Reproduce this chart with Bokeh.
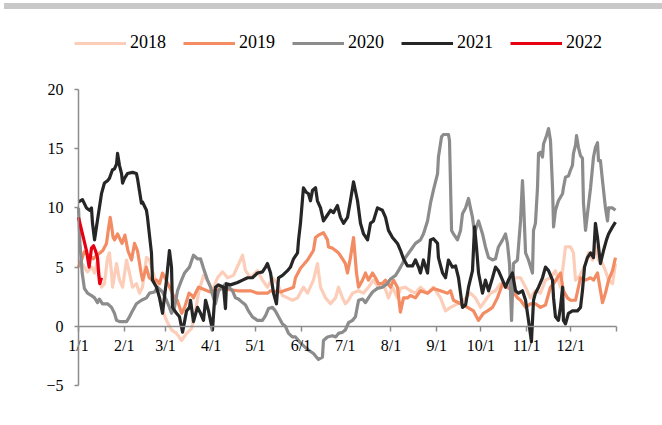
from bokeh.plotting import figure
from bokeh.models import Range1d, FixedTicker, Legend, LegendItem, Div
from bokeh.layouts import column
from bokeh.embed import file_html
from bokeh.resources import INLINE

# ---------------- data ----------------
month_ticks = [0, 31, 59, 90, 120, 151, 181, 212, 243, 273, 304, 334, 365]
month_labels = ["1/1", "2/1", "3/1", "4/1", "5/1", "6/1", "7/1", "8/1",
                "9/1", "10/1", "11/1", "12/1", ""]
y_ticks = [-5, 0, 5, 10, 15, 20]

years = ["2018", "2019", "2020", "2021", "2022"]

d18 = [0, 3, 6, 9, 10.9, 12.9, 15.6, 17.6, 19.7, 21,
       22.4, 23.1, 25.8, 27.8, 29.9, 32.6, 34.6, 36.6, 39.3, 41.4,
       43.4, 46.1, 48.2, 50.2, 52.9, 56.3, 59.7, 63.1, 66.5, 69.9,
       73.3, 76.7, 79.4, 81.4, 84.8, 87.5, 90.9, 94.3, 97.7, 101.1,
       105.1, 109.9, 111.3, 113.3, 116.7, 121.4, 124.8, 128.2, 131.6, 135,
       138.4, 141.8, 145.2, 148.6, 152.6, 155.4, 159.4, 162.1, 164.2, 167.6,
       171, 174.4, 176.4, 179.1, 181.1, 183.2, 185.9, 190, 193.3, 196.7,
       200.1, 203.5, 206.9, 210.3, 213, 216.4, 218.4, 221.8, 225.2, 228.6,
       232, 236.8, 240.8, 245.6, 249, 252.4, 257.1, 261.2, 265.9, 269.3,
       272.7, 276.1, 279.5, 282.9, 286.3, 289.7, 293.1, 296.5, 299.9, 303.3,
       306.6, 310, 313.4, 316.8, 320.2, 323.6, 327, 330.4, 333.8, 335.8,
       337.2, 339.2, 341.9, 344, 346, 348.7, 350.7, 352.8, 355.5, 357.5,
       359.6, 362.3, 364.3]
v18 = [5.6, 5.2, 4.6, 5.0, 4.5, 5.6, 3.3, 3.6, 5.8, 6.2,
       4.5, 3.3, 5.3, 3.9, 3.3, 5.6, 4.5, 3.3, 3.6, 2.8,
       3.3, 5.8, 5.6, 4.7, 3.6, 1.6, 0.5, -0.3, -0.6, -1.2,
       -0.6, -0.2, 1.3, 2.8, 4.3, 3.9, 3.0, 4.1, 4.6, 4.1,
       4.3, 5.6, 6.0, 4.7, 4.1, 4.7, 3.9, 3.3, 4.1, 3.6,
       2.6, 2.4, 2.2, 2.4, 3.3, 2.8, 3.9, 5.3, 3.3, 2.4,
       1.9, 2.4, 3.3, 2.4, 1.9, 2.2, 2.8, 3.0, 2.8, 3.3,
       3.9, 3.3, 3.6, 2.4, 3.3, 2.4, 3.2, 3.3, 3.0, 2.8,
       3.3, 2.8, 3.3, 2.4, 1.3, 1.6, 1.9, 2.2, 2.8, 2.4,
       1.6, 2.2, 2.8, 3.0, 3.6, 3.3, 3.6, 4.1, 4.1, 3.3,
       2.4, 3.0, 2.8, 3.9, 4.1, 4.7, 3.3, 6.7, 6.7, 6.2,
       3.9, 4.1, 4.7, 5.3, 6.2, 5.6, 6.7, 5.6, 5.3, 4.7,
       3.9, 3.6, 5.3]

d19 = [0, 2, 4, 7, 10, 12.5, 14.5, 16.5, 19, 20.5,
       21.5, 22.5, 23.5, 24.5, 26.5, 29.5, 31.5, 33.5, 36, 38,
       40, 42.5, 43.5, 46, 48, 50, 53, 55, 57, 59.5,
       63, 65, 67, 70, 72, 75, 77, 78, 79.4, 81.4,
       89.5, 96.3, 107.9, 116.7, 121.4, 128.2, 130.3, 137, 143.8, 145.9,
       147.2, 150.6, 155.4, 159.4, 160.8, 162.8, 166.2, 168.9, 169.6, 172.3,
       174.4, 176.4, 179.1, 181.1, 182.5, 184.5, 186.6, 188.6, 190, 192.7,
       194.7, 196.7, 199.5, 201.5, 203.5, 206.2, 208.3, 211.7, 213.7, 216.4,
       218.4, 220.5, 223.2, 225.2, 228.6, 232, 236.8, 240.8, 245.6, 250.3,
       252.4, 254.4, 259.2, 263.9, 268, 271.4, 274.7, 277.5, 280.9, 284.2,
       287.7, 291, 294.4, 297.8, 299.9, 303.3, 306.6, 310, 313.4, 316.8,
       320.2, 322.3, 325, 327, 329, 331.7, 333.8, 337.2, 340.6, 344,
       347.4, 349.4, 352.1, 355.5, 357.5, 359.6, 362.3, 364.3]
v19 = [5.0, 5.6, 6.3, 6.0, 5.7, 6.0, 6.2, 6.4, 7.0, 8.4,
       9.2, 8.4, 7.5, 7.3, 7.8, 7.0, 7.7, 6.4, 5.6, 7.0,
       6.4, 4.5, 3.9, 5.0, 4.1, 3.9, 3.9, 3.6, 4.5, 3.9,
       3.0, 2.4, 2.2, 1.1, 1.6, 2.8, 2.6, 2.4, 2.8, 3.3,
       2.9, 3.2, 3.0, 3.0, 2.8, 2.8, 3.0, 2.9, 3.2, 3.3,
       4.1, 4.9, 5.6, 6.4, 7.5, 7.7, 7.9, 7.3, 6.7, 6.6,
       6.4, 6.2, 5.7, 5.3, 4.5, 5.8, 7.5, 4.5, 3.3, 3.9,
       4.5, 3.9, 4.5, 4.1, 3.6, 3.6, 3.9, 3.3, 3.9, 3.3,
       1.2, 2.4, 2.4, 2.6, 2.4, 3.0, 2.8, 3.2, 3.0, 2.8,
       3.0, 2.2, 1.9, 1.6, 1.3, 0.5, 1.1, 1.3, 1.6, 2.4,
       3.6, 3.3, 3.0, 2.4, 2.2, 1.6, 1.9, 1.9, 1.6, 1.8,
       3.3, 3.6, 4.1, 4.5, 3.0, 2.4, 2.2, 2.2, 4.1, 3.9,
       4.1, 3.9, 4.5, 2.0, 2.8, 3.9, 4.7, 5.8]

d20 = [0, 1, 2.5, 4, 6.1, 8.8, 10.9, 12.9, 14.2, 16.3,
       19.7, 22.4, 24.4, 25.8, 27.8, 32.6, 34.6, 36.6, 39.3, 42.7,
       46.1, 48.2, 51.6, 53.6, 57, 59.7, 61.7, 63.1, 65.1, 67.2,
       69.9, 71.9, 75.3, 78, 80.7, 82.8, 84.8, 87.5, 89.6, 91.6,
       92.9, 95, 97.7, 99.7, 101.8, 104.5, 106.5, 108.5, 111.3, 113.3,
       115.3, 118, 121.4, 124.8, 126.9, 128.9, 131.6, 133.6, 135.7, 138.4,
       140.4, 142.5, 145.2, 147.2, 150.6, 154, 156, 159.4, 162.8, 165.5,
       166.2, 168.9, 172.3, 174.4, 176.4, 179.1, 181.1, 183.2, 185.9, 187.9,
       190, 192.7, 194.7, 196.7, 199.5, 202.8, 206.2, 209.6, 211.7, 215.1,
       217.1, 219.8, 221.8, 225.2, 228.6, 232, 234, 236.8, 238.8, 240.8,
       243.6, 244.2, 246.3, 247.6, 251, 251.7, 253.1, 254.4, 257.1, 259.2,
       260.5, 262.6, 264.6, 265.9, 267.3, 268.7, 270, 271.4, 274.1, 276.1,
       278.2, 280.9, 282.9, 284.9, 287.7, 289.7, 291, 292.4, 293.8, 295.1,
       297.8, 299.9, 301.2, 301.9, 303.3, 305.3, 308, 308.7, 310, 311.4,
       312.1, 313.4, 314.8, 315.5, 317.5, 318.9, 320.2, 321.6, 322.3, 323.6,
       325.6, 328.4, 329, 330.4, 332.4, 333.8, 335.1, 335.8, 337.2, 337.9,
       339.2, 340.6, 341.9, 342.6, 344, 345.3, 347.4, 349.4, 350.7, 352.1,
       352.8, 354.1, 355.5, 357.5, 358.9, 359.6, 362.3, 364.3]
v20 = [10.0, 7.0, 4.5, 3.2, 2.8, 2.6, 2.4, 2.0, 2.3, 1.9,
       1.9, 1.6, 1.1, 0.5, 0.4, 0.4, 0.8, 1.3, 1.9, 2.2,
       2.4, 2.8, 2.9, 3.3, 2.9, 2.2, 1.6, 1.1, 1.6, 3.0,
       3.9, 4.5, 5.0, 6.0, 5.7, 5.7, 4.9, 3.9, 3.3, 2.4,
       1.9, 3.0, 3.3, 3.6, 3.3, 3.0, 2.4, 2.3, 2.0, 1.8,
       1.3, 0.8, 0.5, 0.5, 0.9, 1.5, 1.6, 1.3, 0.8, 0.2,
       0.0, -0.6, -0.9, -0.9, -1.4, -1.8, -2.0, -2.3, -2.8, -2.6,
       -1.2, -0.9, -0.8, -0.9, -0.6, -0.5, -0.3, 0.3, 0.5, 0.8,
       2.2, 2.3, 2.0, 2.4, 2.9, 3.2, 3.3, 3.6, 4.0, 4.3,
       4.7, 5.3, 5.8, 6.4, 7.0, 7.3, 7.8, 8.9, 10.4, 11.5,
       12.9, 14.3, 16.0, 16.2, 16.2, 15.7, 8.1, 7.8, 7.3, 8.1,
       9.5, 10.0, 10.8, 10.0, 9.2, 7.8, 8.4, 8.9, 7.8, 6.7,
       5.8, 5.6, 5.7, 6.7, 7.3, 7.8, 7.0, 5.3, 0.5, 5.3,
       5.6, 8.9, 12.3, 10.6, 6.2, 5.6, 4.5, 8.1, 8.7, 11.7,
       14.6, 14.7, 14.3, 15.4, 16.1, 16.7, 15.7, 11.7, 8.4, 9.8,
       10.6, 11.2, 11.7, 12.6, 12.7, 13.2, 13.6, 14.6, 15.3, 16.1,
       15.1, 14.4, 14.2, 10.4, 8.1, 9.5, 11.7, 14.3, 15.1, 15.5,
       14.0, 14.0, 12.3, 10.0, 8.9, 10.0, 10.0, 9.8]

d21 = [0, 2.7, 5.4, 7.5, 8.8, 9.5, 10.9, 12.2, 15.6, 17.6,
       19.7, 21, 23, 24.4, 25.8, 26.5, 27.8, 29.2, 29.9, 31.2,
       33.2, 36.6, 39.3, 40, 42.7, 43.4, 46.1, 46.8, 49.5, 50.2,
       52.9, 55, 57, 59.7, 61.7, 63.1, 63.8, 66.5, 68.5, 70.6,
       73.3, 75.3, 76, 78, 80.7, 82.8, 84.8, 86.2, 88.2, 90.9,
       92.9, 95, 98.4, 99.7, 100.4, 103.1, 107.9, 111.3, 114.7, 118,
       121.4, 124.8, 126.9, 128.2, 130.3, 132.3, 134.3, 135.7, 138.4, 141.8,
       143.8, 145.9, 148.6, 149.3, 150.6, 152.6, 154.7, 156, 157.4, 158.8,
       160.8, 162.1, 164.2, 166.2, 168.9, 171, 173, 175.7, 177.7, 179.8,
       182.5, 184.5, 186.6, 189.3, 191.3, 193.4, 196.1, 198.1, 200.1, 202.8,
       206.2, 208.3, 210.3, 213, 216.4, 218.5, 220.5, 223.2, 226.6, 228.6,
       230.7, 232, 234, 236.8, 238.8, 240.8, 243.6, 244.2, 247, 249,
       251, 253.7, 255.8, 257.8, 259.2, 260.5, 262.6, 264.6, 267.3, 268.7,
       270, 271.4, 274.1, 276.1, 278.2, 280.9, 282.9, 284.9, 287.7, 289.7,
       291.7, 294.4, 296.5, 298.5, 301.2, 303.3, 305.3, 307.3, 308.7, 310,
       312.1, 314.8, 316.8, 318.9, 321.6, 322.3, 323.6, 325.6, 327, 328.4,
       329, 330.4, 332.4, 335.1, 338.5, 340.6, 341.9, 343.3, 345.3, 347.4,
       349.4, 350.7, 352.1, 354.1, 356.2, 358.2, 359.6, 362.3, 364.3]
v21 = [10.5, 10.7, 10.0, 9.8, 10.0, 8.7, 7.3, 8.4, 11.2, 12.1,
       12.3, 12.5, 13.2, 13.3, 13.7, 14.6, 13.6, 12.9, 12.1, 12.5,
       12.9, 13.0, 12.9, 12.5, 10.4, 10.5, 9.8, 9.2, 6.2, 3.9,
       3.3, 2.4, 1.1, 3.9, 6.4, 5.0, 1.6, 1.1, 0.8, -0.5,
       1.3, 1.6, 2.2, 0.4, 1.6, 1.1, 0.5, 2.2, 1.3, -0.3,
       3.3, 3.5, 3.3, 1.5, 3.6, 3.5, 3.7, 3.9, 4.1, 4.1,
       4.5, 4.6, 5.0, 5.3, 4.5, 2.8, 1.9, 4.1, 4.3, 4.7,
       5.0, 5.7, 6.2, 7.3, 8.7, 11.7, 11.3, 11.2, 10.6, 11.5,
       11.7, 10.6, 10.0, 8.9, 9.4, 9.8, 9.6, 10.2, 9.2, 8.7,
       9.2, 10.6, 12.2, 10.6, 8.7, 7.8, 7.3, 8.7, 8.9, 10.0,
       9.8, 9.2, 8.1, 7.5, 7.0, 6.4, 5.7, 5.1, 5.1, 5.6,
       5.0, 4.5, 5.6, 4.5, 7.3, 7.4, 7.0, 5.8, 4.5, 4.1,
       5.6, 5.0, 5.1, 4.1, 2.8, 1.6, 1.8, 3.3, 4.7, 8.4,
       6.7, 4.5, 2.8, 3.9, 3.0, 4.1, 5.0, 4.7, 3.9, 3.3,
       3.9, 4.5, 3.0, 2.8, 3.0, 2.2, 0.5, -1.3, 2.2, 2.8,
       3.3, 4.1, 5.0, 4.7, 3.9, 2.4, 0.8, 0.5, 1.6, 3.3,
       0.5, 0.2, 1.1, 1.3, 1.3, 1.6, 3.0, 5.0, 5.8, 6.2,
       5.8, 8.7, 7.5, 5.3, 6.4, 7.3, 7.8, 8.4, 8.8]

d22 = [0, 2.7, 5.4, 7.2, 8.8, 10.2, 11.5, 12.9, 13.6, 14.4, 15.6]
v22 = [9.2, 7.8, 6.4, 5.0, 6.6, 6.8, 6.4, 5.8, 4.5, 3.6, 4.1]

series_x = [d18, d19, d20, d21, d22]
series_y = [v18, v19, v20, v21, v22]
colors = ["#FCCDB8", "#F38B63", "#8C8C8C", "#262626", "#E60012"]

# ---------------- layout (pixels, figure coordinates) ----------------
W, H = 650, 408
FRAME_L, FRAME_R = 40, 630          # frame edges
AXIS_X0, AXIS_X1 = 78, 616          # where day 0 and day 365 sit
TOP, BOTTOM = 10, 12                # frame top / bottom borders
Y20, YM5 = 80, 376                  # where the values 20 and -5 sit
px_per_day = (AXIS_X1 - AXIS_X0) / 365.0
x_start = -(AXIS_X0 - FRAME_L) / px_per_day
x_end = 365 + (FRAME_R - AXIS_X1) / px_per_day
px_per_unit = (YM5 - Y20) / 25.0
y_max = 20 + (Y20 - TOP) / px_per_unit
y_min = -5 - (H - BOTTOM - YM5) / px_per_unit

p = figure(width=W, height=H, x_range=Range1d(x_start, x_end), y_range=Range1d(y_min, y_max),
           output_backend="svg", toolbar_location=None,
           min_border_left=FRAME_L, min_border_right=W - FRAME_R,
           min_border_top=TOP, min_border_bottom=BOTTOM)
p.outline_line_color = None
p.grid.visible = False
p.background_fill_color = None
p.border_fill_color = None

renderers = []
for xs, ys, c in zip(series_x, series_y, colors):
    renderers.append(p.line(xs, ys, line_color=c, line_width=3.2, line_join="round"))

axis_color = "#8C8C8C"
font = "Liberation Serif"

xa = p.xaxis[0]
xa.fixed_location = 0
xa.bounds = (0, 365)
xa.ticker = FixedTicker(ticks=month_ticks)
xa.major_label_overrides = {t: lab for t, lab in zip(month_ticks, month_labels)}
xa.minor_tick_line_color = None
xa.major_tick_in = 0
xa.major_tick_out = 5
xa.axis_line_color = axis_color
xa.axis_line_width = 1.5
xa.major_tick_line_color = axis_color
xa.major_tick_line_width = 1.5
xa.major_label_text_font = font
xa.major_label_text_font_size = "16px"
xa.major_label_text_color = "#000000"
xa.major_label_standoff = 6

ya = p.yaxis[0]
ya.fixed_location = 0
ya.ticker = FixedTicker(ticks=y_ticks)
ya.bounds = (-5, 20)
ya.minor_tick_line_color = None
ya.major_tick_in = 0
ya.major_tick_out = 4
ya.axis_line_color = axis_color
ya.axis_line_width = 1.5
ya.major_tick_line_color = axis_color
ya.major_tick_line_width = 1.5
ya.major_label_text_font = font
ya.major_label_text_font_size = "16px"
ya.major_label_text_color = "#000000"
ya.major_label_standoff = 11

# legend: first swatch starts near x=76, legend bottom 36px above the value 20
legend = Legend(items=[LegendItem(label=y, renderers=[r]) for y, r in zip(years, renderers)],
                orientation="horizontal",
                location=(74 - FRAME_L, (H - BOTTOM) - Y20 + 36),
                border_line_color=None, background_fill_alpha=0,
                label_text_font=font, label_text_font_size="18px",
                label_text_color="#000000",
                glyph_width=52, glyph_height=20, label_standoff=4,
                spacing=17, padding=0, margin=0)
p.add_layout(legend)

bar = Div(text="", width=658, height=6, margin=(3, 0, 0, 4),
          styles={"background-color": "#C8C8C8"})

layout = column(bar, p, spacing=0)

open("out.html", "w").write(file_html(layout, INLINE))
